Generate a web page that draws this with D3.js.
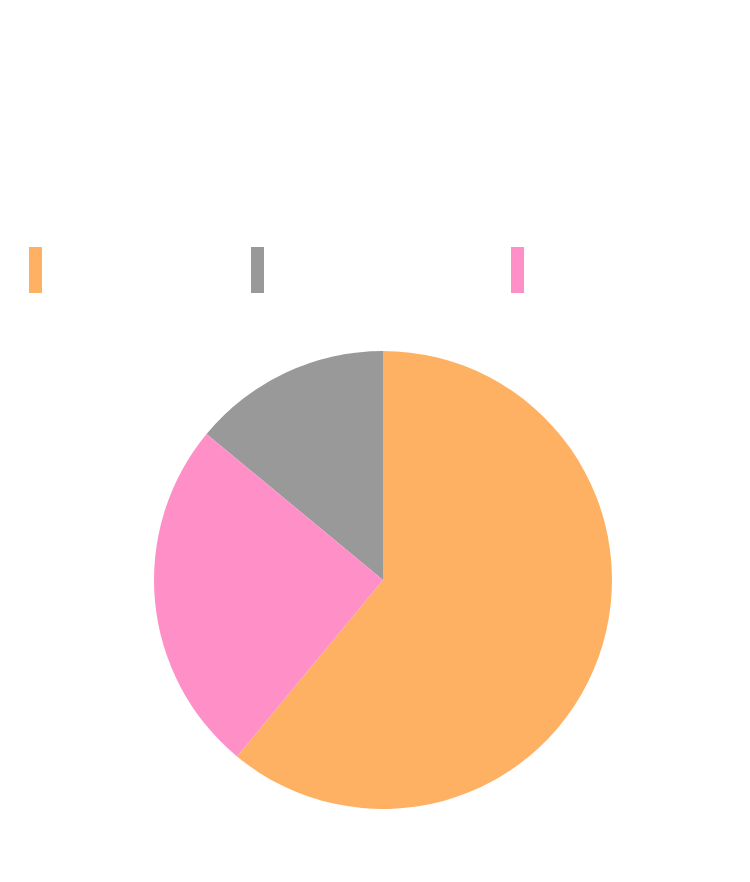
<!DOCTYPE html>
<html>
<head>
<meta charset="utf-8">
<script src="https://cdn.jsdelivr.net/npm/d3@7"></script>
<style>
  html, body { margin: 0; padding: 0; background: #ffffff; }
  svg { display: block; }
</style>
</head>
<body>
<div id="chart"></div>
<script>
// Data
const categories = ["A", "B", "C"];
const values = [61, 14, 25];
const colors = ["#ffb163", "#999999", "#ff8fc7"];
const legendX = [29, 251, 511];

const width = 750, height = 882;
const svg = d3.select("#chart").append("svg")
  .attr("width", width).attr("height", height);

const color = d3.scaleOrdinal().domain(categories).range(colors);

// Legend swatches
const legend = svg.append("g").attr("class", "legend");
legend.selectAll("rect")
  .data(categories)
  .join("rect")
  .attr("x", (d, i) => legendX[i])
  .attr("y", 247)
  .attr("width", 13)
  .attr("height", 46)
  .attr("fill", d => color(d));

// Pie
const cx = 383, cy = 580, r = 229;
const data = categories.map((c, i) => ({ cat: c, value: values[i] }));
const pie = d3.pie().value(d => d.value); // default descending sort
const arc = d3.arc().innerRadius(0).outerRadius(r);

svg.append("g")
  .attr("transform", `translate(${cx},${cy})`)
  .selectAll("path")
  .data(pie(data))
  .join("path")
  .attr("d", arc)
  .attr("fill", d => color(d.data.cat));
</script>
</body>
</html>
